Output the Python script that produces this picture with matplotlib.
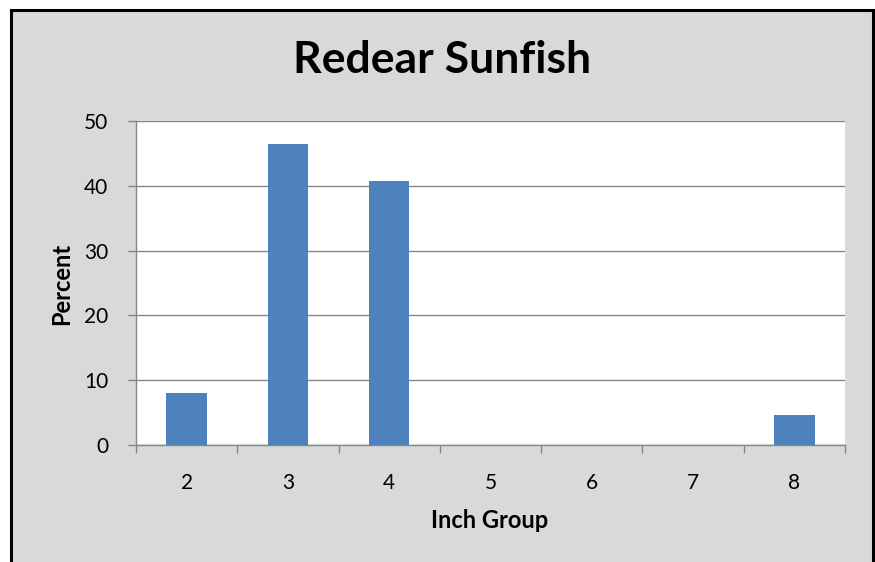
import matplotlib
matplotlib.use("Agg")
import matplotlib.pyplot as plt
from matplotlib.patches import Rectangle
from matplotlib.ticker import FixedLocator, NullFormatter
import numpy as np

plt.rcParams['font.family'] = ['Lato', 'DejaVu Sans']

# data
groups = ["2", "3", "4", "5", "6", "7", "8"]
percent = [8.1, 46.5, 40.7, 0, 0, 0, 4.6]
yticks = [0, 10, 20, 30, 40, 50]

W, H = 875, 562
fig = plt.figure(figsize=(W / 100, H / 100), dpi=100, facecolor="white")

# gray chart area with black frame (bottom edge runs off the image)
frame = Rectangle((10.5 / W, -0.05), 862.5 / W, 1.05 - 9.5 / H,
                  transform=fig.transFigure, facecolor="#d9d9d9",
                  edgecolor="black", linewidth=2.2, zorder=-5)
fig.patches.append(frame)

ax = fig.add_axes([136 / W, 1 - 445 / H, 709 / W, 324 / H])
ax.set_facecolor("white")

x = np.arange(len(groups))
ax.bar(x, percent, width=0.4, color="#4f81bd", edgecolor="none", zorder=3)

grid_c = "#868686"
ax.set_ylim(0, 50)
ax.set_xlim(-0.5, len(groups) - 0.5)
ax.set_yticks(yticks)
ax.yaxis.grid(True, color=grid_c, linewidth=1.0, zorder=1)
ax.set_axisbelow(True)

# major x ticks between categories, labels on minor ticks at centers
ax.xaxis.set_major_locator(FixedLocator(np.arange(-0.5, len(groups), 1.0)))
ax.xaxis.set_major_formatter(NullFormatter())
ax.xaxis.set_minor_locator(FixedLocator(x))
ax.set_xticklabels(groups, minor=True)
ax.tick_params(axis="x", which="major", direction="out", length=6, width=1, color=grid_c)
ax.tick_params(axis="x", which="minor", length=0, pad=20, labelsize=15)
ax.tick_params(axis="y", direction="out", length=6, width=1, color=grid_c, pad=14, labelsize=15)

for s in ["top", "right"]:
    ax.spines[s].set_visible(False)
for s in ["left", "bottom"]:
    ax.spines[s].set_color(grid_c)
    ax.spines[s].set_linewidth(1.0)

ax.set_xlabel("Inch Group", fontsize=17, fontweight="bold", va="center")
ax.xaxis.set_label_coords((490 - 136) / 709, (445 - 521) / 324)
ax.set_ylabel("Percent", fontsize=17, fontweight="bold", va="center")
ax.yaxis.set_label_coords((62 - 136) / 709, (445 - 284) / 324)

fig.text(442 / W, 1 - 73 / H, "Redear Sunfish", fontsize=32, fontweight="bold",
         ha="center", va="baseline")

fig.savefig("out.png", dpi=100, facecolor=fig.get_facecolor())
